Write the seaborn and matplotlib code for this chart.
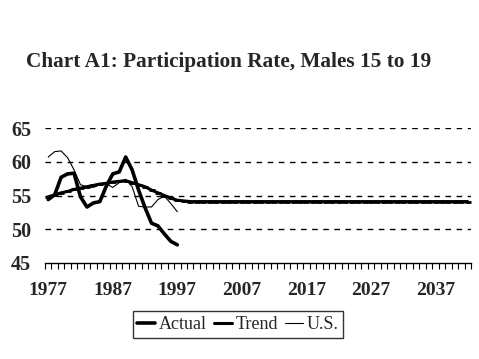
import matplotlib
matplotlib.use('Agg')
import matplotlib.pyplot as plt
import seaborn as sns
import numpy as np

# Data
years = list(range(1977, 2043))
actual_years = list(range(1977, 1998))
actual = [54.4, 55.1, 57.7, 58.2, 58.3, 54.8, 53.3, 53.9, 54.1, 56.4, 58.2,
          58.5, 60.7, 58.8, 55.8, 53.2, 50.9, 50.5, 49.3, 48.2, 47.7]
us = [60.7, 61.5, 61.6, 60.6, 58.8, 56.6, 56.3, 56.2, 56.6, 56.7, 56.2,
      56.9, 57.4, 56.3, 53.4, 53.3, 53.3, 54.4, 54.9, 53.8, 52.6]
trend = [54.8, 55.1, 55.4, 55.6, 55.9, 56.1, 56.3, 56.5, 56.7, 56.8, 57.0,
         57.1, 57.2, 56.9, 56.6, 56.3, 55.8, 55.4, 55.0, 54.6, 54.3, 54.2,
         54.1, 54.1, 54.1, 54.1, 54.1, 54.1, 54.1, 54.1, 54.1, 54.1, 54.1,
         54.1, 54.1, 54.1, 54.1, 54.1, 54.1, 54.1, 54.1, 54.1, 54.1, 54.1,
         54.1, 54.1, 54.1, 54.1, 54.1, 54.1, 54.1, 54.1, 54.1, 54.1, 54.1,
         54.1, 54.1, 54.1, 54.1, 54.1, 54.1, 54.1, 54.1, 54.1, 54.1, 54.1]
label_years = [1977, 1987, 1997, 2007, 2017, 2027, 2037]
y_ticks = [45, 50, 55, 60, 65]

sns.set_style('white')
plt.rcParams['font.family'] = ['Liberation Serif', 'DejaVu Serif']

fig = plt.figure(figsize=(4.79, 3.59), dpi=100)
ax = fig.add_axes([45 / 479, 1 - 263 / 359, 426 / 479, 135 / 359])

sns.lineplot(x=actual_years, y=actual, ax=ax, color='black', lw=2.6, label='Actual')
sns.lineplot(x=years, y=trend, ax=ax, color='black', lw=2.2, marker='_',
             markersize=5, markeredgewidth=2.0, markeredgecolor='black',
             label='Trend')
sns.lineplot(x=actual_years, y=us, ax=ax, color='black', lw=0.8, label='U.S.')

ax.set_xlim(1976.5, 2042.5)
ax.set_ylim(45, 65)

# dashed gridlines
for v in y_ticks[1:]:
    ax.axhline(v, color='black', lw=1, ls=(0, (4, 4)), zorder=0)

for s in ['left', 'right', 'top']:
    ax.spines[s].set_visible(False)
ax.spines['bottom'].set_color('black')
ax.spines['bottom'].set_linewidth(1)

ax.set_yticks(y_ticks)
ax.set_yticklabels([str(v) for v in y_ticks], fontsize=14.5, fontweight='bold')
ax.tick_params(axis='y', length=0, pad=10)

ax.set_xticks(label_years)
ax.set_xticklabels([str(v) for v in label_years], fontsize=14, fontweight='bold')
ax.set_xticks(np.arange(1976.5, 2043, 1), minor=True)
ax.tick_params(axis='x', which='major', length=0, pad=14)
ax.tick_params(axis='x', which='minor', length=4, width=0.8, color='black',
               direction='out', bottom=True)
ax.set_xlabel('')
ax.set_ylabel('')

fig.text(0.478, 1 - 62 / 359, 'Chart A1: Participation Rate, Males 15 to 19',
         ha='center', va='center', fontsize=15.3, fontweight='bold')

ax.get_legend().remove()
handles, labels = ax.get_legend_handles_labels()
leg = fig.legend(handles, labels, loc='center', bbox_to_anchor=(0.497, 1 - 324.5 / 359),
                 ncol=3, frameon=True, fancybox=False, fontsize=13,
                 handlelength=1.0, handletextpad=0.2, columnspacing=0.4,
                 borderpad=0.25, borderaxespad=0, markerscale=0.8)
leg.get_frame().set_edgecolor('black')
leg.get_frame().set_linewidth(1)

fig.savefig('out.png', dpi=100)
